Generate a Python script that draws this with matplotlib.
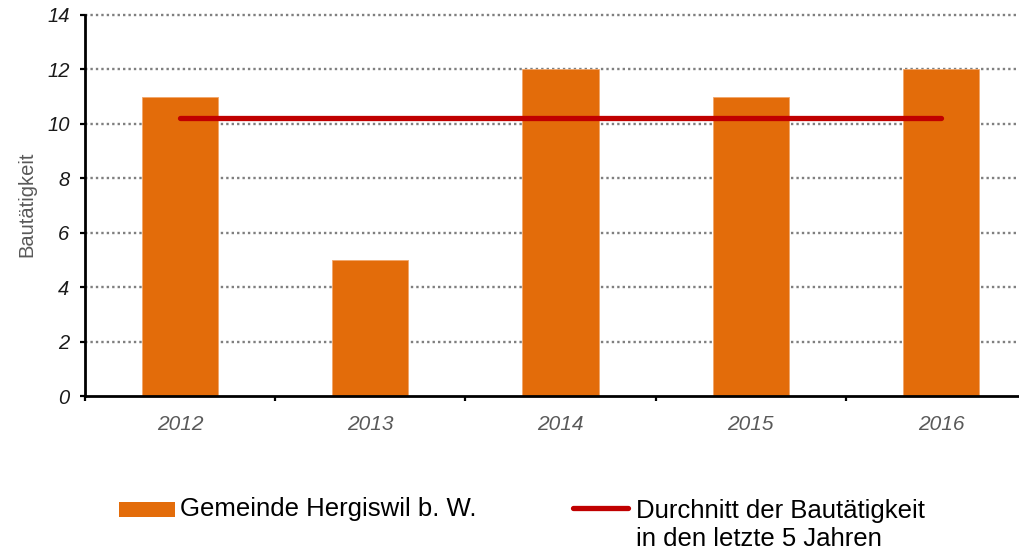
import matplotlib
matplotlib.use("Agg")
import matplotlib.pyplot as plt
from matplotlib.patches import Rectangle
from matplotlib.lines import Line2D
import numpy as np

plt.rcParams['font.family'] = ['Liberation Sans', 'DejaVu Sans']

years = ["2012", "2013", "2014", "2015", "2016"]
values = [11, 5, 12, 11, 12]
average = sum(values) / len(values)
yticks = [0, 2, 4, 6, 8, 10, 12, 14]
bar_label = "Gemeinde Hergiswil b. W."
line_label = "Durchnitt der Bautätigkeit\nin den letzte 5 Jahren"
ylabel = "Bautätigkeit"

ORANGE = "#E36C0A"
RED = "#C00000"
W, H = 1019, 555

fig = plt.figure(figsize=(W / 100, H / 100), dpi=100)
left, right, bottom, top = 85, 1036, 396, 15
ax = fig.add_axes([left / W, (H - bottom) / H, (right - left) / W, (bottom - top) / H])

x = np.arange(len(years))
ax.bar(x, values, width=0.4, color=ORANGE, edgecolor="#F2A66A", linewidth=0.6, zorder=2)
ax.plot([x[0], x[-1]], [average, average], color=RED, lw=3.8,
        solid_capstyle="round", zorder=3)

ax.set_xlim(-0.5, len(years) - 0.5)
ax.set_ylim(0, 14)
ax.set_yticks(yticks)
ax.set_yticklabels([str(v) for v in yticks], fontsize=14.5, style="italic", color="#1a1a1a")
ax.set_xticks(x)
ax.set_xticklabels(years, fontsize=15, style="italic", color="#595959")
ax.set_xticks(np.arange(-0.5, len(years) + 0.5, 1), minor=True)
ax.tick_params(axis="x", which="major", length=0, pad=14)
ax.tick_params(axis="x", which="minor", length=3.6, width=1.6, direction="out")
ax.tick_params(axis="y", length=3.6, width=1.6, pad=7.5, direction="out")

for s in ["top", "right"]:
    ax.spines[s].set_visible(False)
for s in ["left", "bottom"]:
    ax.spines[s].set_linewidth(2)
    ax.spines[s].set_color("black")

for v in yticks[1:]:
    ax.axhline(v, color="#7f7f7f", lw=1.7, linestyle=(0, (1, 1.3)),
               dash_capstyle="butt", zorder=1, clip_on=False)

fig.text(27 / W, (H - 204) / H, ylabel, rotation=90, fontsize=14.5, color="#595959",
         ha="center", va="center")

# legend
fig.add_artist(Rectangle((119 / W, (H - 517) / H), 56 / W, 15 / H,
                         transform=fig.transFigure, facecolor=ORANGE, edgecolor="none"))
fig.text(180 / W, (H - 509) / H, bar_label, fontsize=18.5, color="black",
         ha="left", va="center")
fig.add_artist(Line2D([573 / W, 628 / W], [(H - 508) / H, (H - 508) / H],
                      transform=fig.transFigure, color=RED, lw=3.8, solid_capstyle="round"))
fig.text(636 / W, (H - 525) / H, line_label, fontsize=18.5, color="black",
         ha="left", va="center", linespacing=1.2)

fig.savefig("out.png", dpi=100)
